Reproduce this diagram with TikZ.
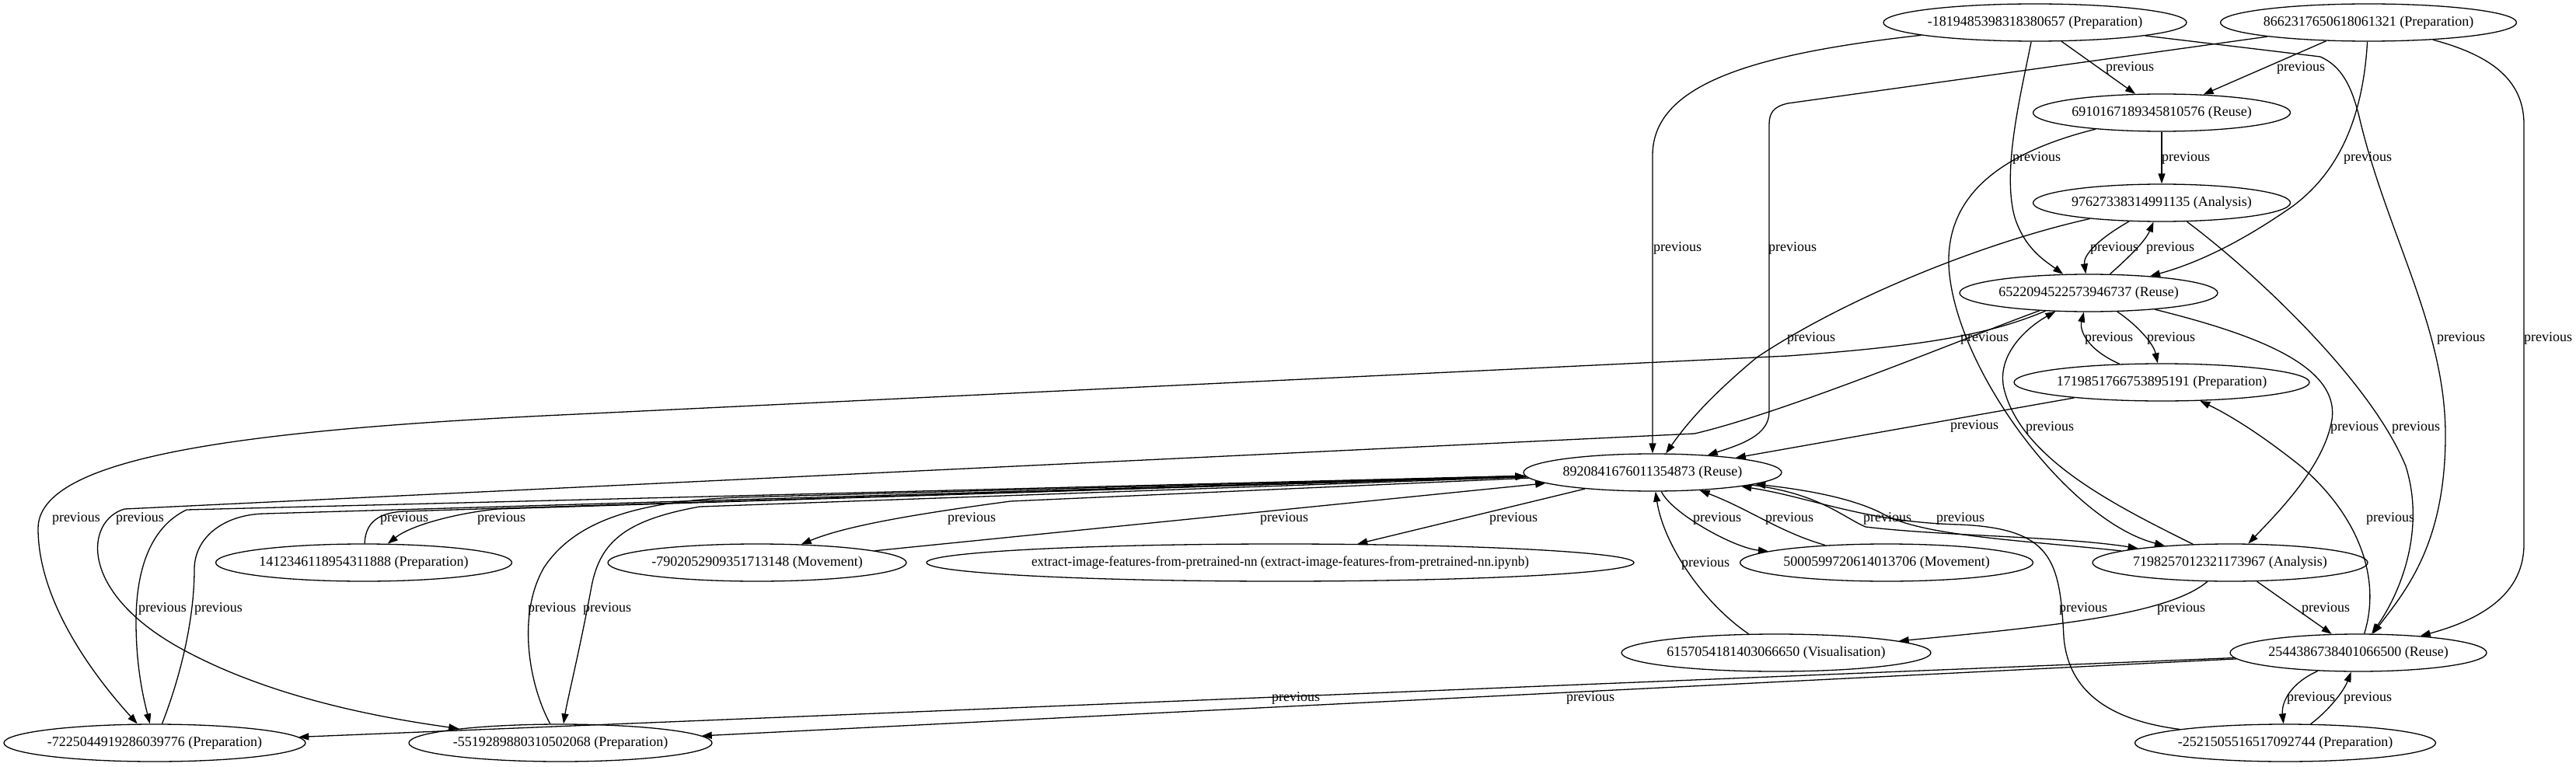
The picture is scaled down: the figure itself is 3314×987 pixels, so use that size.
\documentclass[tikz,border=0pt]{standalone}
\usepackage{fontspec}
\setmainfont{Liberation Serif}
\usetikzlibrary{arrows.meta, shapes.geometric}

\begin{document}
\begin{tikzpicture}[x=1pt, y=1pt, line width=1.3pt,
  task/.style={draw, ellipse, minimum height=48pt, inner xsep=-20pt, inner ysep=0pt,
    font=\fontsize{18}{20}\selectfont},
  prev/.style={-{Triangle[length=13pt,width=9pt]}},
  lbl/.style={inner sep=0pt, font=\fontsize{18}{20}\selectfont}]
  \useasboundingbox (0,0) rectangle (3314,-987);

  % Cells, one row per rank
  \node[task, minimum width=390pt] (p1819) at (2618,-29) {-1819485398318380657 (Preparation)};
  \node[task, minimum width=381pt] (p8662) at (3047,-29) {8662317650618061321 (Preparation)};
  \node[task, minimum width=331pt] (r6910) at (2781,-145) {6910167189345810576 (Reuse)};
  \node[task, minimum width=331pt] (a9762) at (2781,-261) {97627338314991135 (Analysis)};
  \node[task, minimum width=332pt] (r6522) at (2687,-377) {6522094522573946737 (Reuse)};
  \node[task, minimum width=380pt] (p1719) at (2781,-492) {1719851766753895191 (Preparation)};
  \node[task, minimum width=332pt] (r8920) at (2126,-608) {8920841676011354873 (Reuse)};
  \node[task, minimum width=381pt] (p1412) at (468,-724) {1412346118954311888 (Preparation)};
  \node[task, minimum width=384pt] (m7902) at (974,-724) {-7902052909351713148 (Movement)};
  \node[task, minimum width=910pt] (nb) at (1647,-724)
    {\scalebox{0.95}[1]{extract-image-features-from-pretrained-nn (extract-image-features-from-pretrained-nn.ipynb)}};
  \node[task, minimum width=377pt] (m5000) at (2427,-724) {5000599720614013706 (Movement)};
  \node[task, minimum width=354pt] (a7198) at (2869,-724) {7198257012321173967 (Analysis)};
  \node[task, minimum width=398pt] (v6157) at (2285,-840) {6157054181403066650 (Visualisation)};
  \node[task, minimum width=330pt] (r2544) at (3034,-840) {2544386738401066500 (Reuse)};
  \node[task, minimum width=388pt] (p7225) at (199,-956) {-7225044919286039776 (Preparation)};
  \node[task, minimum width=390pt] (p5519) at (721,-956) {-5519289880310502068 (Preparation)};
  \node[task, minimum width=387pt] (p2521) at (2940,-956) {-2521505516517092744 (Preparation)};

  % Edges leaving the top cells
  \draw[prev] (p1819) -- (r6910) node[lbl] (l01) at (2740,-87) {previous};
  \draw[prev] (p8662) -- (r6910) node[lbl] (l02) at (2960,-87) {previous};
  \draw[prev] (p1819) .. controls (2250,-70) and (2126,-110) .. (2126,-200) -- (r8920)
    node[lbl] (l03) at (2158,-319) {previous};
  \draw[prev] (p8662) -- (2300,-133) .. controls (2282,-137) and (2276,-145) .. (2276,-160)
    -- (2276,-530) .. controls (2276,-560) and (2240,-572) .. (r8920)
    node[lbl] (l04) at (2306,-319) {previous};
  \draw[prev] (p1819) .. controls (2600,-120) and (2575,-220) .. (2592,-280)
    .. controls (2605,-320) and (2630,-335) .. (r6522)
    node[lbl] (l05) at (2620,-203) {previous};
  \draw[prev] (r6910) -- (a9762) node[lbl] (l06) at (2812,-203) {previous};
  \draw[prev] (p8662) .. controls (3040,-150) and (3010,-220) .. (2950,-265)
    .. controls (2900,-300) and (2840,-335) .. (r6522)
    node[lbl] (l07) at (3046,-203) {previous};
  \draw[prev] (p1819) -- (2985,-73) .. controls (3012,-85) and (3025,-110) .. (3035,-150)
    .. controls (3070,-300) and (3146,-420) .. (3146,-560)
    .. controls (3146,-700) and (3095,-760) .. (r2544)
    node[lbl] (l08) at (3166,-435) {previous};
  \draw[prev] (p8662) .. controls (3200,-70) and (3247,-100) .. (3247,-160) -- (3247,-700)
    .. controls (3247,-760) and (3200,-795) .. (r2544)
    node[lbl] (l09) at (3278,-435) {previous};

  % Middle column
  \draw[prev] (a9762) .. controls (2695,-310) and (2680,-330) .. (r6522)
    node[lbl] (l10) at (2720,-319) {previous};
  \draw[prev] (r6522) .. controls (2740,-330) and (2760,-310) .. (a9762)
    node[lbl] (l11) at (2792,-319) {previous};
  \draw[prev] (a9762) .. controls (2560,-310) and (2380,-380) .. (2260,-460)
    .. controls (2200,-510) and (2170,-545) .. (r8920)
    node[lbl] (l12) at (2330,-435) {previous};
  \draw[prev] (r6910) .. controls (2560,-200) and (2505,-260) .. (2507,-340)
    .. controls (2512,-470) and (2660,-670) .. (a7198)
    node[lbl] (l13) at (2553,-435) {previous};
  \draw[prev] (p1719) .. controls (2685,-450) and (2675,-425) .. (r6522)
    node[lbl] (l14) at (2713,-435) {previous};
  \draw[prev] (r6522) .. controls (2745,-415) and (2770,-440) .. (p1719)
    node[lbl] (l15) at (2793,-435) {previous};
  \draw[prev] (p1719) -- (r8920) node[lbl] (l16) at (2540,-548) {previous};
  \draw[prev] (a7198) .. controls (2720,-650) and (2600,-590) .. (2578,-500)
    .. controls (2568,-455) and (2610,-420) .. (r6522)
    node[lbl] (l17) at (2637,-550) {previous};
  \draw[prev] (r6522) .. controls (2900,-430) and (3010,-470) .. (3000,-540)
    .. controls (2990,-600) and (2930,-660) .. (a7198)
    node[lbl] (l18) at (3029,-550) {previous};
  \draw[prev] (a9762) .. controls (2900,-350) and (3050,-490) .. (3095,-600)
    .. controls (3120,-680) and (3090,-760) .. (r2544)
    node[lbl] (l19) at (3108,-550) {previous};
  \draw[prev] (r2544) .. controls (3065,-740) and (3030,-660) .. (2960,-600)
    .. controls (2910,-560) and (2870,-535) .. (p1719)
    node[lbl] (l20) at (3075,-667) {previous};

  % Long edges to the left
  \draw[prev] (r6522) .. controls (2560,-430) and (2480,-445) .. (2300,-458) -- (700,-535)
    .. controls (300,-555) and (49,-590) .. (49,-680)
    .. controls (49,-780) and (130,-880) .. (p7225)
    node[lbl] (l21) at (98,-667) {previous};
  \draw[prev] (r6522) .. controls (2540,-430) and (2300,-530) .. (2180,-558) -- (160,-655)
    .. controls (110,-670) and (100,-760) .. (230,-833)
    .. controls (350,-900) and (500,-925) .. (p5519)
    node[lbl] (l22) at (180,-667) {previous};

  % Around 8920841676011354873
  \draw[prev] (p1412) .. controls (470,-680) and (478,-660) .. (520,-658) -- (r8920)
    node[lbl] (l23) at (520,-667) {previous};
  \draw[prev] (r8920) -- (640,-655) .. controls (590,-660) and (530,-675) .. (p1412)
    node[lbl] (l24) at (645,-667) {previous};
  \draw[prev] (r8920) -- (1300,-645) .. controls (1150,-665) and (1080,-680) .. (m7902)
    node[lbl] (l25) at (1250,-667) {previous};
  \draw[prev] (m7902) -- (r8920) node[lbl] (l26) at (1652,-667) {previous};
  \draw[prev] (r8920) -- (nb) node[lbl] (l27) at (1947,-667) {previous};
  \draw[prev] (r8920) .. controls (2150,-660) and (2230,-705) .. (m5000)
    node[lbl] (l28) at (2209,-667) {previous};
  \draw[prev] (m5000) .. controls (2290,-685) and (2250,-655) .. (r8920)
    node[lbl] (l29) at (2302,-667) {previous};
  \draw[prev] (a7198) .. controls (2600,-695) and (2470,-690) .. (2420,-660)
    .. controls (2380,-640) and (2320,-630) .. (r8920)
    node[lbl] (l30) at (2428,-667) {previous};
  \draw[prev] (r8920) .. controls (2340,-635) and (2370,-665) .. (2400,-678)
    .. controls (2500,-690) and (2650,-690) .. (a7198)
    node[lbl] (l31) at (2522,-667) {previous};
  \draw[prev] (v6157) .. controls (2190,-775) and (2140,-700) .. (r8920)
    node[lbl] (l32) at (2194,-725) {previous};
  \draw[prev] (r8920) -- (240,-656) .. controls (190,-680) and (175,-740) .. (175,-800)
    .. controls (175,-860) and (185,-900) .. (p7225)
    node[lbl] (l33) at (209,-783) {previous};
  \draw[prev] (p7225) .. controls (240,-850) and (250,-780) .. (250,-733)
    .. controls (250,-690) and (290,-662) .. (340,-661) -- (r8920)
    node[lbl] (l34) at (281,-783) {previous};
  \draw[prev] (p5519) .. controls (680,-880) and (665,-790) .. (700,-730)
    .. controls (740,-670) and (820,-645) .. (950,-640) -- (r8920)
    node[lbl] (l35) at (710,-783) {previous};
  \draw[prev] (r8920) -- (900,-652) .. controls (800,-670) and (770,-700) .. (760,-760)
    .. controls (745,-840) and (730,-900) .. (p5519)
    node[lbl] (l36) at (781,-783) {previous};
  \draw[prev] (p2521) .. controls (2700,-925) and (2660,-880) .. (2655,-820)
    .. controls (2650,-720) and (2640,-680) .. (2520,-675)
    .. controls (2400,-672) and (2330,-640) .. (r8920)
    node[lbl] (l37) at (2680,-783) {previous};

  % Lower right
  \draw[prev] (a7198) .. controls (2790,-790) and (2650,-805) .. (v6157)
    node[lbl] (l38) at (2806,-783) {previous};
  \draw[prev] (a7198) -- (r2544) node[lbl] (l39) at (2992,-783) {previous};
  \draw[prev] (r2544) .. controls (2945,-880) and (2935,-905) .. (p2521)
    node[lbl] (l40) at (2973,-898) {previous};
  \draw[prev] (p2521) .. controls (2995,-915) and (3015,-890) .. (r2544)
    node[lbl] (l41) at (3046,-898) {previous};
  \draw[prev] (r2544) -- (p7225) node[lbl] (l42) at (1667,-898) {previous};
  \draw[prev] (r2544) -- (p5519) node[lbl] (l43) at (2046,-898) {previous};
\end{tikzpicture}
\end{document}
